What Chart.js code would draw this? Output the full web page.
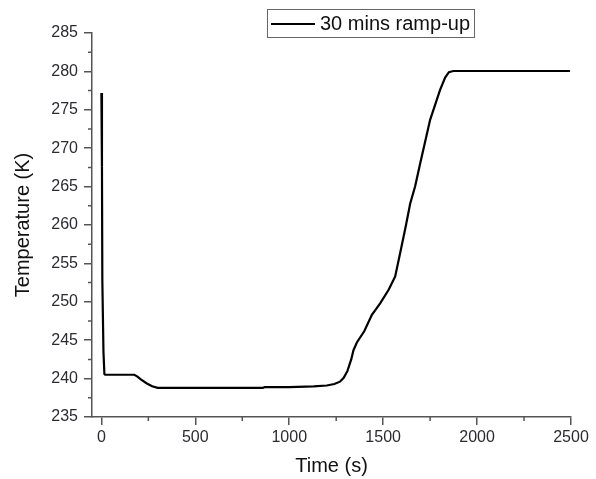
<!DOCTYPE html>
<html>
<head>
<meta charset="utf-8">
<script src="https://cdn.jsdelivr.net/npm/chart.js@4"></script>
<style>
  html, body { margin: 0; padding: 0; background: #fff; }
  #wrap { width: 596px; height: 479px; }
</style>
</head>
<body>
<div id="wrap"><canvas id="chart" width="596" height="479"></canvas></div>
<script>
// Data
const timeS = [0, 3, 5, 11, 16, 20, 100, 175, 190, 210, 240, 270, 300, 500, 860, 870, 1000, 1130, 1200, 1240, 1270, 1290, 1310, 1330, 1342, 1360, 1400, 1440, 1484, 1530, 1564, 1590, 1620, 1644, 1670, 1697, 1750, 1803, 1830, 1850, 1874, 2000, 2495];
const tempK = [277.2, 267.6, 252.8, 243.5, 240.6, 240.5, 240.5, 240.5, 240.3, 239.9, 239.4, 239.0, 238.8, 238.8, 238.8, 238.9, 238.9, 239.0, 239.1, 239.3, 239.6, 240.1, 241.0, 242.5, 243.7, 244.7, 246.2, 248.3, 249.8, 251.6, 253.3, 256.3, 259.8, 262.8, 265.0, 268.0, 273.7, 277.6, 279.2, 279.9, 280.05, 280.05, 280.05];
const xMajorTicks = [0, 500, 1000, 1500, 2000, 2500];
const xMinorTicks = [250, 750, 1250, 1750, 2250];
const yMajorTicks = [235, 240, 245, 250, 255, 260, 265, 270, 275, 280, 285];
const yMinorTicks = [237.5, 242.5, 247.5, 252.5, 257.5, 262.5, 267.5, 272.5, 277.5, 282.5];
const seriesLabel = '30 mins ramp-up';

const axisColor = '#555';
const textColor = '#2b2b33';
const fontFamily = '"Liberation Sans", Arial, sans-serif';

// minor ticks + boxed legend
const extrasPlugin = {
    id: 'extras',
    afterDraw(chart) {
        const ctx = chart.ctx;
        const xs = chart.scales.x, ys = chart.scales.y;
        ctx.save();
        ctx.strokeStyle = axisColor;
        ctx.lineWidth = 1.5;
        ctx.beginPath();
        xMinorTicks.forEach(v => {
            const px = xs.getPixelForValue(v);
            ctx.moveTo(px, ys.bottom);
            ctx.lineTo(px, ys.bottom + 4);
        });
        yMinorTicks.forEach(v => {
            const py = ys.getPixelForValue(v);
            ctx.moveTo(xs.left, py);
            ctx.lineTo(xs.left - 4, py);
        });
        ctx.stroke();

        // legend box
        const ds = chart.data.datasets[0];
        ctx.strokeStyle = '#666';
        ctx.lineWidth = 1;
        ctx.strokeRect(267.5, 9.5, 207, 28);
        ctx.strokeStyle = ds.borderColor;
        ctx.lineWidth = 2;
        ctx.beginPath();
        ctx.moveTo(271, 24);
        ctx.lineTo(315, 24);
        ctx.stroke();
        ctx.fillStyle = '#111';
        ctx.font = '20px ' + fontFamily;
        ctx.textBaseline = 'middle';
        ctx.textAlign = 'left';
        ctx.fillText(ds.label, 320, 24);
        ctx.restore();
    }
};

new Chart(document.getElementById('chart').getContext('2d'), {
    type: 'line',
    data: {
        datasets: [{
            label: seriesLabel,
            data: timeS.map((t, i) => ({ x: t, y: tempK[i] })),
            borderColor: '#000',
            borderWidth: 2.2,
            pointRadius: 0,
            tension: 0,
            fill: false
        }]
    },
    options: {
        responsive: false,
        animation: false,
        layout: { padding: { top: 33, right: 25, left: 0, bottom: 0 } },
        plugins: {
            legend: { display: false },
            tooltip: { enabled: false }
        },
        scales: {
            x: {
                type: 'linear',
                min: -50,
                max: 2500,
                afterBuildTicks: scale => { scale.ticks = xMajorTicks.map(v => ({ value: v })); },
                afterFit: scale => { scale.height = 62; },
                grid: { drawOnChartArea: false, drawTicks: true, tickLength: 8, color: axisColor, lineWidth: 1.5 },
                border: { display: true, color: axisColor, width: 1.5 },
                ticks: { color: textColor, font: { family: fontFamily, size: 16 }, padding: 3, maxRotation: 0, callback: v => String(v) },
                title: { display: true, text: 'Time (s)', color: '#111', font: { family: fontFamily, size: 20 }, padding: { top: 0, bottom: 1 } }
            },
            y: {
                type: 'linear',
                min: 235,
                max: 285,
                afterBuildTicks: scale => { scale.ticks = yMajorTicks.map(v => ({ value: v })); },
                afterFit: scale => { scale.width = 92; },
                grid: { drawOnChartArea: false, drawTicks: true, tickLength: 8, color: axisColor, lineWidth: 1.5 },
                border: { display: true, color: axisColor, width: 1.5 },
                ticks: { color: textColor, font: { family: fontFamily, size: 16 }, padding: 6, callback: v => String(v) },
                title: { display: true, text: 'Temperature (K)', color: '#111', font: { family: fontFamily, size: 20 }, padding: { top: 11, bottom: 0 } }
            }
        }
    },
    plugins: [extrasPlugin]
});
</script>
</body>
</html>
